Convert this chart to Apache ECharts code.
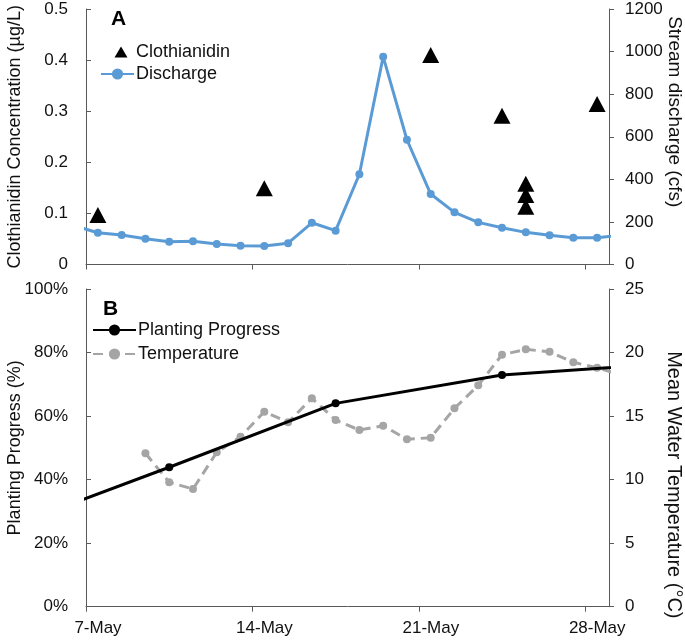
<!DOCTYPE html>
<html>
<head>
<meta charset="utf-8">
<script src="https://cdn.jsdelivr.net/npm/echarts@6/dist/echarts.min.js"></script>
<style>html,body{margin:0;padding:0;background:#fff}#c{width:685px;height:640px}</style>
</head>
<body>
<div id="c"></div>
<script>
// ---- data ----
const tickLabels = ['7-May', '14-May', '21-May', '28-May'];

const dischargeDates = ['6-May','7-May','8-May','9-May','10-May','11-May','12-May','13-May','14-May','15-May','16-May','17-May','18-May','19-May','20-May','21-May','22-May','23-May','24-May','25-May','26-May','27-May','28-May','29-May'];
const dischargeValues = [182, 149, 139, 121, 107, 109, 96, 88, 87, 100, 196, 159, 424, 976, 586, 331, 245, 198, 173, 151, 137, 126, 126, 138];

const clothDates = ['7-May','14-May','21-May','24-May','25-May','25-May','25-May','28-May'];
const clothValues = [0.097, 0.149, 0.41, 0.291, 0.158, 0.136, 0.113, 0.314];

const tempDates = ['9-May','10-May','11-May','12-May','13-May','14-May','15-May','16-May','17-May','18-May','19-May','20-May','21-May','22-May','23-May','24-May','25-May','26-May','27-May','28-May','29-May'];
const tempValues = [12.07, 9.79, 9.26, 12.15, 13.38, 15.34, 14.51, 16.40, 14.69, 13.90, 14.24, 13.17, 13.30, 15.61, 17.42, 19.83, 20.25, 20.06, 19.23, 18.81, 18.24];

const plantDates = ['3-May','10-May','17-May','24-May','31-May'];
const plantValues = [24.3, 43.9, 64.0, 72.9, 76.6];

// day offset from 7-May (points sit in the middle of each day slot)
function dayX(s) { return parseInt(s, 10) - 7 + 0.5; }
function pairs(dates, vals) { return dates.map((d, i) => [dayX(d), vals[i]]); }
const tickPos = tickLabels.map(s => parseInt(s, 10) - 7);

const FONT = "'Liberation Sans', Arial, sans-serif";
const TXT = '#111';
const AX = '#5a5a5a';

const chart = echarts.init(document.getElementById('c'), null, {renderer: 'canvas'});

function xAxisFor(grid, showLabels) {
  return {
    gridIndex: grid, type: 'value', min: 0, max: 22,
    axisLine: {show: true, lineStyle: {color: AX, width: 1}},
    axisTick: {show: true, inside: false, length: 5, lineStyle: {color: AX}, customValues: tickPos},
    axisLabel: {show: showLabels, customValues: tickPos, margin: 13, color: TXT, fontFamily: FONT, fontSize: 17,
      padding: [0, 0, 0, 24],
      formatter: v => { const i = tickPos.indexOf(Math.round(v)); return i >= 0 ? tickLabels[i] : ''; }},
    splitLine: {show: false}
  };
}

function yAxisFor(grid, pos, min, max, interval, name, fmt, nameGap, namePad, nameSize) {
  const left = pos === 'left';
  return {
    gridIndex: grid, type: 'value', position: pos, min: min, max: max, interval: interval,
    name: name, nameLocation: 'middle', nameGap: nameGap, nameRotate: left ? 90 : -90, nameMoveOverlap: false,
    nameTextStyle: {color: TXT, fontFamily: FONT, fontSize: nameSize, padding: namePad},
    axisLine: {show: true, lineStyle: {color: AX, width: 1}},
    axisTick: {show: true, inside: left, length: 5, lineStyle: {color: AX}},
    axisLabel: {color: TXT, fontFamily: FONT, fontSize: 17, margin: left ? 18 : 16, formatter: fmt},
    splitLine: {show: false}
  };
}

const option = {
  animation: false,
  backgroundColor: '#fff',
  textStyle: {fontFamily: FONT},
  title: [
    {text: 'A', left: 106, top: 4, textStyle: {fontFamily: FONT, fontSize: 21, fontWeight: 'bold', color: '#000'}},
    {text: 'B', left: 98, top: 294, textStyle: {fontFamily: FONT, fontSize: 21, fontWeight: 'bold', color: '#000'}}
  ],
  grid: [
    {left: 86, top: 9, width: 523, height: 255.5, outerBoundsMode: 'none', containLabel: false},
    {left: 86, top: 289, width: 523, height: 317.7, outerBoundsMode: 'none', containLabel: false}
  ],
  legend: [
    {data: [{name: 'Clothianidin', icon: 'path://M0,0M33,14M13.5,12.5L20,1.5L26.5,12.5Z'}, {name: 'Discharge'}],
      orient: 'vertical', left: 100, top: 43, itemWidth: 33, itemHeight: 14, itemGap: 4,
      textStyle: {color: TXT, fontFamily: FONT, fontSize: 18, padding: [0, 0, 0, -3]}, padding: 0},
    {data: ['Planting Progress', 'Temperature'], orient: 'vertical', left: 92, top: 321, itemWidth: 43, itemHeight: 14, itemGap: 6,
      textStyle: {color: TXT, fontFamily: FONT, fontSize: 18, padding: [0, 0, 0, -3]}, padding: 0}
  ],
  xAxis: [xAxisFor(0, false), xAxisFor(1, true)],
  yAxis: [
    yAxisFor(0, 'left', 0, 0.5, 0.1, 'Clothianidin Concentration (µg/L)', v => String(v), 62, [0, 0, 0, 0], 18),
    yAxisFor(0, 'right', 0, 1200, 200, 'Stream discharge (cfs)', v => String(v), 56, [0, 50, 0, 0], 19),
    yAxisFor(1, 'left', 0, 100, 20, 'Planting Progress (%)', v => v + '%', 62, [0, 0, 0, 0], 18),
    yAxisFor(1, 'right', 0, 25, 5, 'Mean Water Temperature (°C)', v => String(v), 55, [0, 0, 0, 74], 20)
  ],
  series: [
    {name: 'Discharge', type: 'line', xAxisIndex: 0, yAxisIndex: 1, data: pairs(dischargeDates, dischargeValues),
      symbol: 'circle', symbolSize: 8, showSymbol: true, clip: true,
      lineStyle: {color: '#5B9BD5', width: 3}, itemStyle: {color: '#5B9BD5'}, z: 2},
    {name: 'Clothianidin', type: 'scatter', xAxisIndex: 0, yAxisIndex: 0, data: pairs(clothDates, clothValues),
      symbol: 'triangle', symbolSize: [17, 16], itemStyle: {color: '#000', opacity: 1}, z: 3},
    {name: 'Planting Progress', type: 'line', xAxisIndex: 1, yAxisIndex: 2, data: pairs(plantDates, plantValues),
      symbol: 'circle', symbolSize: 8, showSymbol: true, clip: true,
      lineStyle: {color: '#000', width: 3}, itemStyle: {color: '#000'}, z: 3},
    {name: 'Temperature', type: 'line', xAxisIndex: 1, yAxisIndex: 3, data: pairs(tempDates, tempValues),
      symbol: 'circle', symbolSize: 8, showSymbol: true, clip: true,
      lineStyle: {color: '#A5A5A5', width: 3, type: [10, 6]}, itemStyle: {color: '#A5A5A5'}, z: 2}
  ]
};
chart.setOption(option);
</script>
</body>
</html>
